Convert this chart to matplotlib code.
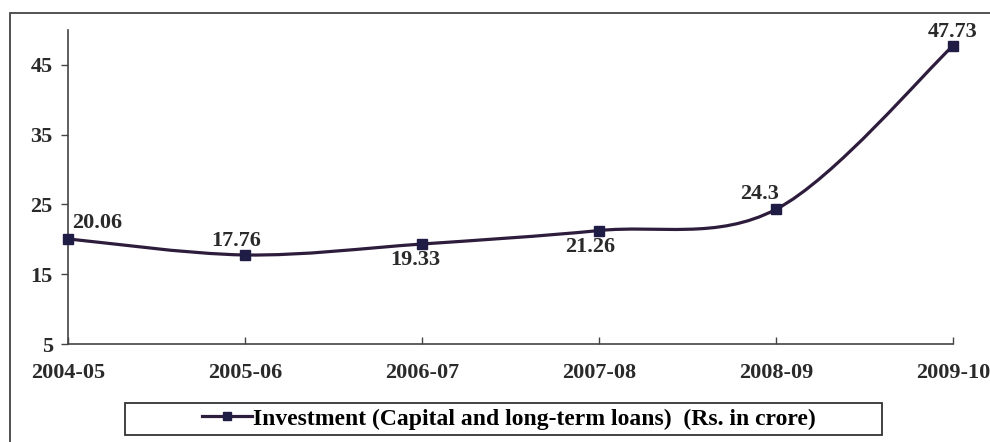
import numpy as np
import matplotlib
matplotlib.use("Agg")
import matplotlib.pyplot as plt
from matplotlib.path import Path
from matplotlib.patches import PathPatch, Rectangle
from matplotlib.lines import Line2D

# Investment figures per financial year
years = ["2004-05", "2005-06", "2006-07", "2007-08", "2008-09", "2009-10"]
investment = [20.06, 17.76, 19.33, 21.26, 24.3, 47.73]

plt.rcParams["font.family"] = ["Liberation Serif", "DejaVu Serif"]
plt.rcParams["font.weight"] = "bold"

line_col = "#2e1c3c"
mark_col = "#1f1c45"
text_col = "#2a2a2a"

fig = plt.figure(figsize=(9.9, 4.42), dpi=100)
ax = fig.add_axes([68 / 990, 1 - 344 / 442, (953 - 68) / 990, (344 - 30) / 442])

x = np.arange(len(years), dtype=float)
y = np.array(investment, dtype=float)

# smoothed line (Catmull-Rom style bezier segments, like a spreadsheet "smooth line")
px = np.concatenate([[x[0]], x, [x[-1]]])
py = np.concatenate([[y[0]], y, [y[-1]]])
verts = [(x[0], y[0])]
codes = [Path.MOVETO]
for i in range(1, len(px) - 2):
    c1 = (px[i] + (px[i + 1] - px[i - 1]) / 6, py[i] + (py[i + 1] - py[i - 1]) / 6)
    c2 = (px[i + 1] - (px[i + 2] - px[i]) / 6, py[i + 1] - (py[i + 2] - py[i]) / 6)
    verts += [c1, c2, (px[i + 1], py[i + 1])]
    codes += [Path.CURVE4] * 3
ax.add_patch(PathPatch(Path(verts, codes), fill=False, edgecolor=line_col,
                       lw=2.3, zorder=3, clip_on=False))
ax.plot(x, y, ls="none", marker="s", ms=7.5, color=mark_col, zorder=4, clip_on=False)

# value labels
offsets = [(21, 11.5), (-6, 10), (-5, -11.5), (-6, -12), (-12, 11), (0, 10)]
for xi, yi, (dx, dy) in zip(x, y, offsets):
    ax.annotate(f"{yi:g}", (xi, yi), xytext=(dx, dy), textcoords="offset points",
                ha="center", va="center", fontsize=16, fontweight="bold", color=text_col)

ax.set_xlim(0, 5)
ax.set_ylim(5, 50)
ax.set_yticks([5, 15, 25, 35, 45])
ax.set_xticks(x)
ax.set_xticklabels(years)
ax.tick_params(axis="y", direction="out", length=5, width=1, labelsize=16, colors="#444444", pad=6)
ax.tick_params(axis="x", direction="in", length=5, width=1, labelsize=16, colors="#444444", pad=14)
for lab in ax.get_xticklabels() + ax.get_yticklabels():
    lab.set_fontweight("bold")
    lab.set_color(text_col)
for s in ["top", "right"]:
    ax.spines[s].set_visible(False)
for s in ["left", "bottom"]:
    ax.spines[s].set_color("#444444")
    ax.spines[s].set_linewidth(1.2)

# outer chart border
fig.patches.append(Rectangle((10 / 990, -0.05), 1.05, 1 - 13 / 442 + 0.05,
                             transform=fig.transFigure, fill=False,
                             edgecolor="#444444", lw=1.3))

# legend box
fig.patches.append(Rectangle((125 / 990, 1 - 435 / 442), 757 / 990, 32 / 442,
                             transform=fig.transFigure, fill=False,
                             edgecolor="#333333", lw=1.3))
handle = Line2D([], [], color=line_col, lw=2.3, marker="s", ms=6,
                markerfacecolor=mark_col, markeredgecolor=mark_col)
fig.legend([handle], ["Investment (Capital and long-term loans)  (Rs. in crore)"],
           loc="center", bbox_to_anchor=(509 / 990, 1 - 419 / 442),
           frameon=False, handlelength=2.1, handletextpad=0.05,
           prop={"size": 17, "weight": "bold"})

fig.savefig("out.png", dpi=100, facecolor="white")
